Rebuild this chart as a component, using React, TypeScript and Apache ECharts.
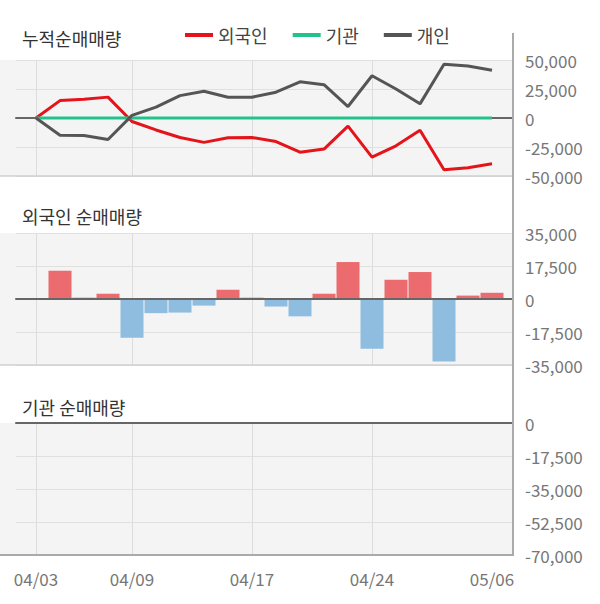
import React, { useEffect, useRef } from "react";
import * as echarts from "echarts";

// ---- data ----
const dates = ["04/03","04/06","04/07","04/08","04/09","04/10","04/13","04/14","04/16","04/17","04/20","04/21","04/22","04/23","04/24","04/27","04/28","04/29","05/04","05/06"];
const labelIdx = [0, 4, 9, 14, 19];
const gridIdx = [0, 4, 9, 14];

const cumForeign = [0, 15000, 16200, 18000, -3000, -10300, -16800, -21000, -17000, -16800, -20300, -29500, -26800, -7000, -33800, -24000, -10500, -44600, -42800, -39500];
const cumInst = [0, 0, 0, 0, 0, 0, 0, 0, 0, 0, 0, 0, 0, 0, 0, 0, 0, 0, 0, 0];
const cumIndiv = [0, -14800, -15000, -18500, 2300, 9400, 19300, 23000, 17900, 17900, 22200, 31200, 28700, 9900, 36400, 25000, 12200, 46300, 44900, 41200];

const dailyForeign = [0, 15000, 700, 2800, -20600, -7500, -7200, -3500, 4900, 700, -4000, -9200, 2800, 19600, -26400, 10200, 14300, -33200, 1800, 3300];
const dailyInst = [0, 0, 0, 0, 0, 0, 0, 0, 0, 0, 0, 0, 0, 0, 0, 0, 0, 0, 0, 0];

const titles = ["누적순매매량", "외국인 순매매량", "기관 순매매량"];
const seriesNames = ["외국인", "기관", "개인"];
const yRanges = [
  { min: -50000, max: 50000, interval: 25000 },
  { min: -35000, max: 35000, interval: 17500 },
  { min: -70000, max: 0, interval: 17500 },
];

// ---- style / layout ----
const FONT = "'Noto Sans CJK KR', 'Noto Sans', sans-serif";
const RED = "#e5141b";
const GREEN = "#22c38b";
const DARK = "#555555";
const BAR_RED = "#eb6b6e";
const BAR_BLUE = "#8fbde0";
const BG = "#f4f4f4";
const GRID_LEFT = 16;
const AXIS_X = 513;
const panels = [
  { top: 60, height: 116, titleTop: 27 },
  { top: 233, height: 132, titleTop: 205 },
  { top: 423, height: 132, titleTop: 396 },
];
const X_MIN = -0.8333;
const X_MAX = 19.875;

const fmt = (v: number) => Number(v).toLocaleString("en-US");

export default function App() {
  const ref = useRef<HTMLDivElement>(null);
  useEffect(() => {
    if (!ref.current) return;
    const chart = echarts.init(ref.current, undefined, { renderer: "svg" });

    const xAxis: any[] = [];
    panels.forEach((p, i) => {
      xAxis.push({
        type: "value",
        gridIndex: i,
        min: X_MIN,
        max: X_MAX,
        position: "bottom",
        axisLine: { show: false, onZero: false },
        axisTick: { show: false, customValues: gridIdx },
        splitLine: { show: true, lineStyle: { color: "#dcdcdc", width: 1 } },
        axisLabel:
          i === 2
            ? {
                show: true,
                customValues: labelIdx,
                formatter: (v: number) => dates[Math.round(v)],
                margin: 15,
                fontSize: 17,
                color: "#777",
                fontFamily: FONT,
              }
            : { show: false },
        z: 0,
      });
      xAxis.push({
        type: "value",
        gridIndex: i,
        min: X_MIN,
        max: X_MAX,
        position: "bottom",
        axisLine: { show: true, onZero: true, lineStyle: { color: "#666", width: 2 } },
        axisTick: { show: false },
        splitLine: { show: false },
        axisLabel: { show: false },
        z: i === 0 ? 0 : 5,
      });
    });

    const yAxis = panels.map((p, i) => ({
      type: "value",
      gridIndex: i,
      position: "right",
      min: yRanges[i].min,
      max: yRanges[i].max,
      interval: yRanges[i].interval,
      axisLine: { show: false, onZero: false },
      axisTick: { show: false },
      splitLine: { show: true, lineStyle: { color: "#e0e0e0", width: 1 } },
      axisLabel: {
        margin: 12,
        fontSize: 17,
        color: "#777",
        fontFamily: FONT,
        formatter: fmt,
        padding: [0, 0, 6, 0],
      },
    }));

    const graphic: any[] = [];
    panels.forEach((p, i) => {
      graphic.push({
        type: "rect",
        silent: true,
        z: -10,
        shape: { x: 0, y: p.top, width: AXIS_X, height: p.height },
        style: { fill: BG },
      });
      graphic.push({
        type: "line",
        silent: true,
        z: 10,
        shape: { x1: 0, y1: p.top + p.height, x2: AXIS_X, y2: p.top + p.height },
        style: { stroke: i === 2 ? "#aaa" : "#d0d0d0", lineWidth: i === 2 ? 2 : 1.5 },
      });
    });
    graphic.push({
      type: "line",
      silent: true,
      z: 10,
      shape: { x1: AXIS_X, y1: 33, x2: AXIS_X, y2: panels[2].top + panels[2].height + 1 },
      style: { stroke: "#aaa", lineWidth: 2 },
    });

    const lineData = [cumForeign, cumInst, cumIndiv];
    const lineColors = [RED, GREEN, DARK];

    const series: any[] = lineData.map((arr, k) => ({
      name: seriesNames[k],
      type: "line",
      xAxisIndex: 1,
      yAxisIndex: 0,
      symbol: "none",
      showSymbol: false,
      data: arr.map((v, i) => [i, v]),
      lineStyle: { color: lineColors[k], width: 3 },
      itemStyle: { color: lineColors[k] },
      z: 3,
    }));
    series.push({
      name: "외국인 순매매",
      type: "bar",
      xAxisIndex: 3,
      yAxisIndex: 1,
      barWidth: 23,
      data: dailyForeign.map((v, i) => [i, v]),
      itemStyle: { color: (p: any) => (p.value[1] >= 0 ? BAR_RED : BAR_BLUE) },
    });
    series.push({
      name: "기관 순매매",
      type: "bar",
      xAxisIndex: 5,
      yAxisIndex: 2,
      barWidth: 23,
      data: dailyInst.map((v, i) => [i, v]),
      itemStyle: { color: (p: any) => (p.value[1] >= 0 ? BAR_RED : BAR_BLUE) },
    });

    chart.setOption({
      animation: false,
      textStyle: { fontFamily: FONT },
      title: panels.map((p, i) => ({
        text: titles[i],
        left: 22,
        top: p.titleTop,
        padding: 0,
        textStyle: { fontSize: 18, fontWeight: "normal", color: "#333", lineHeight: 22, fontFamily: FONT },
      })),
      legend: {
        left: 185,
        top: 24,
        padding: 0,
        itemGap: 25,
        itemWidth: 28,
        itemHeight: 4,
        icon: "rect",
        data: seriesNames,
        textStyle: { fontSize: 18, color: "#444", lineHeight: 22, fontFamily: FONT },
      },
      grid: panels.map((p) => ({ left: GRID_LEFT, right: 600 - AXIS_X, top: p.top, height: p.height })),
      xAxis,
      yAxis,
      graphic,
      series,
    });
    return () => chart.dispose();
  }, []);
  return (
    <div
      ref={ref}
      style={{ position: "fixed", left: 0, top: 0, width: 600, height: 604, background: "#fff" }}
    />
  );
}
